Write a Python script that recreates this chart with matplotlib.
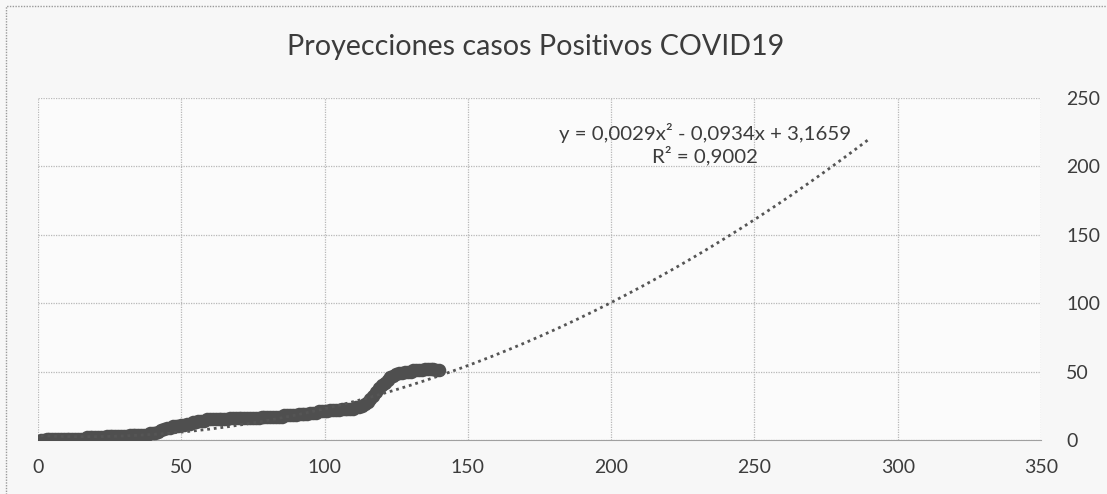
import matplotlib
matplotlib.use("Agg")
import matplotlib.pyplot as plt
from matplotlib.patches import Rectangle
import numpy as np

# ---- data ----
days = list(range(1, 141))
cases = [
    0, 0, 1, 1, 1, 1, 1, 1, 1, 1,
    1, 1, 1, 1, 1, 1, 2, 2, 2, 2,
    2, 2, 2, 3, 3, 3, 3, 3, 3, 3,
    3, 4, 4, 4, 4, 4, 4, 4, 5, 5,
    5, 6, 7, 8, 9, 9, 10, 10, 10, 11,
    11, 12, 12, 13, 13, 14, 14, 14, 15, 15,
    15, 15, 15, 15, 15, 15, 16, 16, 16, 16,
    16, 16, 16, 16, 16, 16, 16, 17, 17, 17,
    17, 17, 17, 17, 17, 18, 18, 18, 18, 18,
    19, 19, 19, 19, 20, 20, 20, 21, 21, 21,
    21, 22, 22, 22, 22, 23, 23, 23, 23, 23,
    24, 24, 25, 26, 28, 30, 32, 35, 38, 40,
    42, 44, 46, 47, 48, 49, 49, 50, 50, 50,
    51, 51, 51, 51, 52, 52, 52, 52, 51, 51,
]
# polynomial trend line as printed on the chart
coef_a, coef_b, coef_c = 0.0029, -0.0934, 3.1659
trend_start, trend_end = 1, 290
r_squared_label = "R² = 0,9002"
equation_label = "y = 0,0029x² - 0,0934x + 3,1659"
title = "Proyecciones casos Positivos COVID19"
x_ticks = [0, 50, 100, 150, 200, 250, 300, 350]
y_ticks = [0, 50, 100, 150, 200, 250]

plt.rcParams['font.family'] = ['Lato', 'DejaVu Sans']

fig = plt.figure(figsize=(11.07, 4.94), dpi=100)
fig.patch.set_facecolor('#f7f7f7')
ax = fig.add_axes([0.0343, 0.1093, 0.9061, 0.6923])
ax.set_facecolor('#fbfbfb')

# chart frame (left and top edges visible)
fig.patches.append(Rectangle((6 / 1107, -0.1), 1.2, 1 - 6 / 494 + 0.1,
                             transform=fig.transFigure, fill=False,
                             edgecolor='#9a9a9a', linewidth=1.0,
                             linestyle=(0, (1, 1))))

txt = '#3c3c3c'
ax.set_xlim(0, 350)
ax.set_ylim(0, 250)
ax.set_xticks(x_ticks)
ax.set_yticks(y_ticks)
ax.yaxis.tick_right()
ax.tick_params(axis='both', length=0, labelsize=14, colors=txt)
ax.tick_params(axis='x', pad=14)
ax.tick_params(axis='y', pad=18)
ax.grid(True, color='#b8b8b8', linestyle=(0, (1, 1)), linewidth=0.9)
for s in ['top', 'left', 'right']:
    ax.spines[s].set_visible(False)
ax.spines['bottom'].set_color('#a0a0a0')
ax.spines['bottom'].set_linestyle((0, (1, 1)))

ax.scatter(days, cases, s=95, color='#4f4f4f', zorder=3, linewidths=0)

tx = np.linspace(trend_start, trend_end, 300)
ty = coef_a * tx**2 + coef_b * tx + coef_c
ax.plot(tx, ty, color='#555555', linestyle=(0, (1, 1.4)), linewidth=2.0, zorder=4)

fig.text(0.4835, 0.905, title, ha='center', va='center', fontsize=20.6, color=txt)
fig.text(705 / 1107, 0.731, equation_label, ha='center', va='center',
         fontsize=14.7, color=txt)
fig.text(705 / 1107, 0.686, r_squared_label, ha='center', va='center',
         fontsize=14.7, color=txt)

fig.savefig('out.png', dpi=100, facecolor=fig.get_facecolor())
